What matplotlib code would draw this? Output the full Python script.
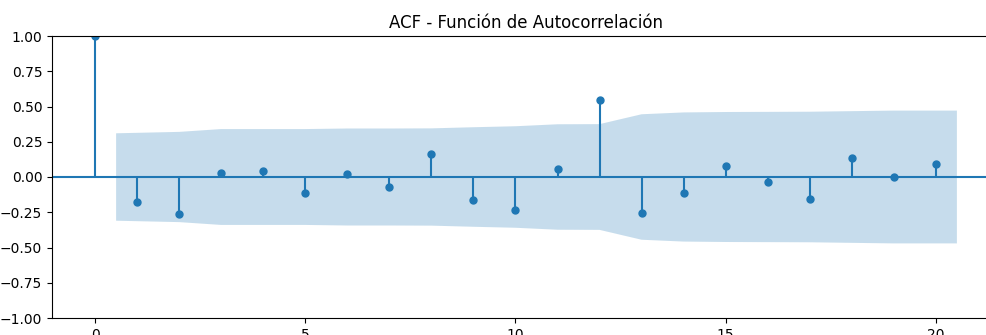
import numpy as np
import matplotlib
matplotlib.use('Agg')
import matplotlib.pyplot as plt

# ACF values per lag
lags = list(range(21))
acf_vals = [1.00, -0.18, -0.26, 0.026, 0.04, -0.11, 0.02, -0.073, 0.163, -0.163,
            -0.236, 0.055, 0.544, -0.253, -0.116, 0.078, -0.038, -0.154, 0.137,
            0.0, 0.094]

# half-width of the confidence band for lags 1..20
band = [0.310, 0.320, 0.340, 0.340, 0.340, 0.344, 0.344, 0.345, 0.353, 0.360,
        0.374, 0.375, 0.445, 0.458, 0.461, 0.462, 0.463, 0.467, 0.471, 0.471]

title = 'ACF - Función de Autocorrelación'

fig = plt.figure(figsize=(9.87, 3.35), dpi=100)
# axes continues past the right edge like in the cropped original
ax = fig.add_axes([52 / 987, 17 / 335, 948 / 987, 282 / 335])

acf = np.array(acf_vals)
ax.vlines(lags, [0], acf)
ax.axhline()
ax.margins(0.05)
ax.plot(lags, acf, marker='o', markersize=5, linestyle='None')
ax.set_title(title)
ax.set_ylim(-1, 1)

# band spans lags 1..20, ends pushed out by half a lag
band_x = np.array(lags[1:], dtype=float)
band_x[0] -= 0.5
band_x[-1] += 0.5
half = np.array(band)
ax.fill_between(band_x, -half, half, alpha=0.25)

# right edge is cropped off in the reference
ax.spines['right'].set_visible(False)

fig.savefig('out.png', dpi=100)
